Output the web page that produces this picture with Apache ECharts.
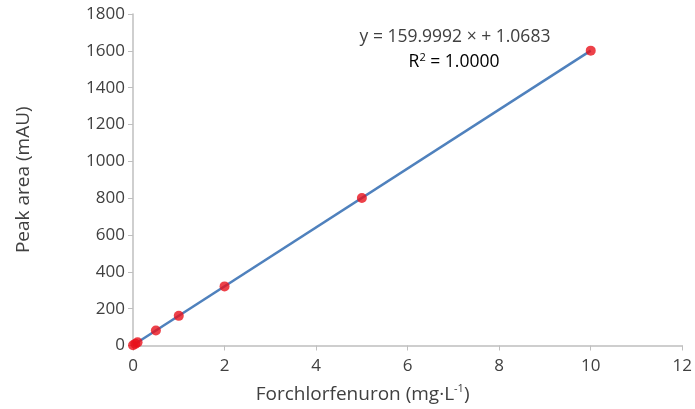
<!DOCTYPE html>
<html>
<head>
<meta charset="utf-8">
<script src="https://cdn.jsdelivr.net/npm/echarts@6/dist/echarts.min.js"></script>
<style>
  html, body { margin: 0; padding: 0; background: #fff; }
  #chart { width: 695px; height: 409px; }
</style>
</head>
<body>
<div id="chart"></div>
<script>
// Concentrations (mg/L) and measured peak areas (mAU)
const concentrations = [0, 0.05, 0.1, 0.5, 1, 2, 5, 10];
const peakAreas = [1, 9, 17, 81, 161, 321, 801, 1601];

// Fitted line end points
const fitX = [0, 10];
const fitY = [1.07, 1601.06];

const equationText = 'y = 159.9992 × + 1.0683';
const r2Text = '1.0000';

const font = '"Open Sans", "Noto Sans", sans-serif';
const textColor = '#404040';
const axisColor = '#bfbfbf';

const chart = echarts.init(document.getElementById('chart'), null, { renderer: 'canvas' });

const option = {
    animation: false,
    grid: { left: 133, right: 12, top: 14, bottom: 63 },
    xAxis: {
        type: 'value',
        min: 0,
        max: 12,
        interval: 2,
        name: '{n|Forchlorfenuron (mg·L}{s|-1}{n|)}',
        nameLocation: 'middle',
        nameGap: 38,
        nameTextStyle: {
            // the title sits left of the plot centre in the original
            padding: [0, 90, 0, 0],
            rich: {
                n: { fontFamily: font, fontSize: 19, color: textColor },
                s: { fontFamily: font, fontSize: 11, color: textColor, verticalAlign: 'top', padding: [0, 0, 11, 0] }
            }
        },
        axisLine: { lineStyle: { color: axisColor, width: 1.5 } },
        axisTick: { show: true, length: 5, lineStyle: { color: axisColor } },
        axisLabel: { fontFamily: font, fontSize: 17, color: textColor, margin: 12 },
        splitLine: { show: false }
    },
    yAxis: {
        type: 'value',
        min: 0,
        max: 1800,
        interval: 200,
        name: 'Peak area (mAU)',
        nameLocation: 'middle',
        nameGap: 100,
        nameTextStyle: { fontFamily: font, fontSize: 19, color: textColor },
        axisLine: { show: true, lineStyle: { color: axisColor, width: 1.5 } },
        axisTick: { show: true, length: 5, lineStyle: { color: axisColor } },
        axisLabel: { fontFamily: font, fontSize: 17, color: textColor, margin: 8, formatter: v => String(v) },
        splitLine: { show: false }
    },
    series: [
        {
            type: 'line',
            data: fitX.map((x, i) => [x, fitY[i]]),
            showSymbol: false,
            lineStyle: { color: '#4f81bd', width: 2.5 },
            z: 2
        },
        {
            type: 'scatter',
            data: concentrations.map((x, i) => [x, peakAreas[i]]),
            symbolSize: 10,
            itemStyle: { color: '#e8111c' },
            z: 3
        }
    ],
    graphic: [
        {
            type: 'text',
            x: 455,
            y: 37,
            style: {
                text: equationText,
                fontFamily: font,
                fontSize: 17.5,
                fill: textColor,
                align: 'center',
                verticalAlign: 'middle'
            }
        },
        {
            type: 'text',
            x: 454,
            y: 62,
            style: {
                text: '{n|R}{s|2}{n| = ' + r2Text + '}',
                align: 'center',
                verticalAlign: 'middle',
                rich: {
                    n: { fontFamily: font, fontSize: 17.5, color: textColor },
                    s: { fontFamily: font, fontSize: 11, color: textColor, verticalAlign: 'top', padding: [0, 0, 9, 0] }
                }
            }
        }
    ]
};

chart.setOption(option);
</script>
</body>
</html>
